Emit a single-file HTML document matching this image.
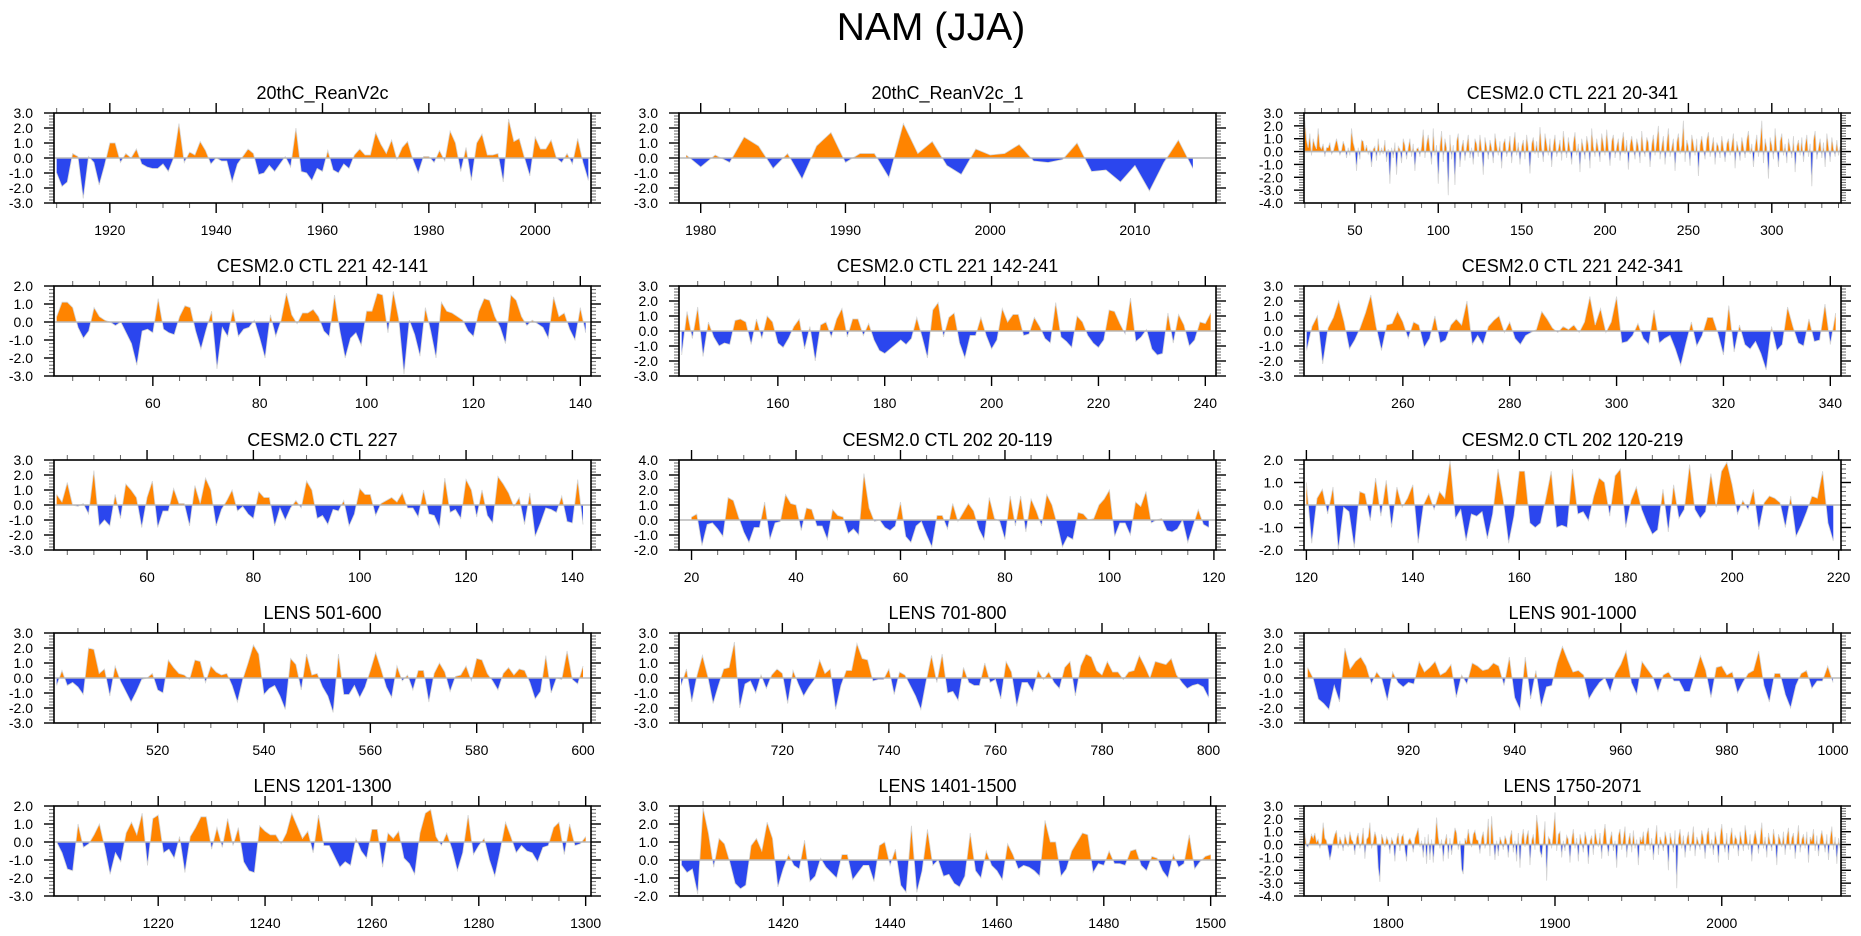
<!DOCTYPE html>
<html><head><meta charset="utf-8">
<style>
html,body{margin:0;padding:0;background:#fff;}
svg{display:block;font-family:"Liberation Sans",Arial,sans-serif;}
</style></head>
<body>
<svg id="chart" width="1861" height="936" viewBox="0 0 1861 936" xmlns="http://www.w3.org/2000/svg">
<rect x="0" y="0" width="1861" height="936" fill="#fff"/>
<text x="931" y="40" font-size="39" text-anchor="middle" fill="#000">NAM (JJA)</text>
</svg>
<script>
// ---- data ----
const p1Values=[-1.0,-1.9,-1.6,0.3,0.1,-2.7,0.1,-0.3,-1.8,-0.5,1.0,1.0,-0.3,0.3,0.0,0.6,-0.4,-0.6,-0.7,-0.7,-0.4,-0.9,0.0,2.3,-0.3,0.4,0.2,1.1,0.5,-0.4,0.0,-0.2,-0.2,-1.6,-0.4,0.1,0.6,0.3,-1.1,-1.0,-0.5,-0.9,-0.4,0.1,-0.6,2.0,-0.9,-1.0,-1.5,-0.7,-0.9,0.5,-0.8,-1.0,-0.4,-0.7,0.2,0.6,0.2,0.2,1.7,0.9,0.3,1.2,-0.1,0.7,1.1,-0.1,-1.0,0.1,0.1,-0.3,0.5,-0.2,1.8,1.0,-0.9,0.7,-1.5,1.0,1.6,0.2,0.2,0.3,-1.6,2.6,1.1,1.3,0.0,-1.2,1.4,0.6,0.6,1.2,0.0,-0.3,0.3,-0.4,1.3,-0.3,-1.5];
const p2Values=[0.2,-0.6,0.2,-0.3,1.4,0.8,-0.7,0.3,-1.4,0.8,1.7,-0.3,0.3,0.3,-1.3,2.3,0.3,1.1,-0.5,-1.1,0.6,0.2,0.3,0.9,-0.2,-0.3,-0.1,1.0,-0.9,-0.8,-1.6,-0.5,-2.2,-0.3,1.2,-0.7];
const p3Values=[2.4,0.9,0.3,1.4,-0.3,1.0,0.5,0.2,1.8,0.4,0.2,0.6,-0.4,0.3,0.3,0.7,-0.2,0.0,0.5,1.0,0.4,-0.3,0.1,0.8,0.4,-0.5,0.3,-0.3,1.8,0.7,0.2,-1.5,0.3,-0.6,0.9,0.8,0.0,0.5,-0.2,0.1,-1.2,0.2,0.4,-0.7,1.0,-0.3,0.3,-0.2,0.9,-0.8,0.2,-2.5,0.3,-0.5,0.7,-1.8,0.4,0.2,-0.9,1.0,0.5,-0.6,0.3,1.0,-0.4,0.6,-1.5,0.2,0.3,-0.4,0.4,1.7,-0.5,0.6,1.3,0.2,-1.0,1.8,-0.3,0.5,-2.5,0.4,1.6,-0.8,1.0,0.3,-3.4,1.3,-0.6,0.5,-2.6,0.8,1.4,-1.2,0.3,0.9,-0.7,0.4,1.3,-0.5,0.3,-1.0,1.0,0.6,-0.4,1.3,0.2,-1.8,1.1,0.4,-0.6,0.9,0.3,-0.9,1.4,0.5,-0.3,0.8,-1.3,0.6,1.0,-0.4,0.2,1.2,-0.9,0.5,1.5,-0.3,0.7,-1.0,0.4,0.9,-0.6,1.3,0.3,-1.7,0.6,1.1,-0.2,0.8,-0.5,1.9,0.3,-0.8,1.4,0.6,-0.3,1.0,-1.2,0.5,1.3,-0.4,0.2,0.9,-0.7,1.6,0.4,-0.5,1.1,0.2,-1.0,0.7,1.5,-0.3,0.6,-1.6,1.0,0.3,-0.6,1.2,0.5,-1.3,1.8,0.4,-0.4,1.0,0.2,-0.8,1.4,0.6,-0.3,1.7,0.3,-1.1,0.8,1.3,-0.5,0.4,1.0,-0.7,0.6,1.5,-0.2,0.9,-1.4,0.5,1.2,0.3,-0.6,1.0,0.4,-0.9,1.6,0.2,-0.4,1.1,0.7,-1.2,0.5,1.3,-0.3,0.8,2.0,-0.6,0.4,1.2,-1.0,0.6,1.8,-0.4,0.3,1.0,-1.5,0.7,1.4,-0.2,0.5,2.4,-0.8,0.9,0.4,-1.1,1.3,0.6,-0.3,1.0,-1.9,0.5,1.2,0.2,-0.6,0.9,1.5,-0.4,0.3,1.1,-1.0,0.7,0.4,-0.5,1.2,0.3,-0.8,0.6,1.0,-0.3,0.5,1.4,-1.3,0.8,0.2,-0.7,1.1,0.4,-0.5,0.9,1.6,-0.2,0.6,-1.2,0.4,1.3,-0.4,0.7,2.4,-0.9,1.0,0.3,-2.1,1.1,0.5,-0.6,1.8,0.2,-1.2,0.8,1.4,-0.3,0.6,-0.9,1.0,0.3,-0.5,1.2,-1.6,0.4,0.9,-0.3,1.1,-0.8,0.5,1.3,-0.4,0.6,-2.7,0.9,1.6,-0.6,0.3,1.0,-0.5,0.7,-1.2,1.4,0.4,-0.8,1.1,0.2,-0.4,0.9,-0.3,0.4];
const p4Values=[0.3,1.1,1.1,0.8,-0.3,-0.9,-0.5,0.8,0.3,0.1,0.0,-0.2,0.0,-0.6,-1.2,-2.4,-0.5,-0.4,-0.6,1.3,-0.4,-0.6,-0.7,0.3,0.9,0.8,-0.5,-1.5,-0.4,0.6,-2.6,-0.3,-0.8,0.7,-0.8,-0.4,-0.3,0.1,-0.9,-2.0,0.4,-0.8,0.1,1.6,0.4,-0.1,0.5,0.5,0.7,0.3,-0.5,-0.8,1.5,-0.5,-2.0,-0.9,-0.6,-1.3,0.6,0.6,1.6,1.5,-0.6,1.7,0.2,-2.9,0.1,-0.7,-1.9,0.8,-0.5,-2.0,1.1,0.6,0.5,0.3,0.1,-0.5,-0.8,0.6,1.3,1.2,0.3,-0.3,-1.2,1.5,1.2,0.3,-0.2,0.1,-0.1,-0.3,-0.9,1.4,0.3,0.5,-0.4,-1.0,0.8,-0.6];
const p5Values=[-1.6,1.3,-0.5,1.6,-1.7,0.6,-0.4,-1.0,-0.8,-0.9,0.7,0.8,0.6,-0.9,0.8,-0.5,1.0,0.6,-0.8,-1.1,-0.5,0.3,0.8,-1.2,0.3,-2.0,0.4,0.6,-0.4,0.8,1.5,-0.4,0.8,0.8,-0.3,0.5,-0.6,-1.3,-1.5,-1.2,-0.9,-0.6,-0.9,-0.5,0.9,-0.4,-1.8,1.4,1.9,-0.4,0.9,1.2,-0.8,-1.8,-0.3,-0.3,0.9,-0.3,-1.2,-0.6,1.5,0.6,1.1,1.1,-0.3,-0.2,0.9,0.3,-0.5,-0.8,1.9,-0.4,-0.7,-1.1,1.0,0.6,-0.3,-0.8,-1.1,-0.6,1.4,1.3,0.5,-0.2,2.2,-0.7,-0.4,0.1,-1.2,-1.6,-1.5,1.2,-0.8,1.1,0.4,-1.0,-0.6,0.6,0.5,1.2];
const p6Values=[-1.3,0.3,1.0,-2.2,0.2,0.9,2.0,0.6,-1.2,-0.6,0.2,1.2,2.4,0.3,-1.3,0.4,0.5,1.3,0.6,-0.5,0.6,0.4,-1.1,-0.5,1.0,-0.8,-0.6,0.4,0.8,0.4,2.0,-0.9,-0.3,-0.9,0.3,0.7,1.0,-0.1,0.6,-0.5,-0.9,-0.3,-0.1,0.1,1.3,0.8,0.2,-0.1,0.3,0.1,0.4,-0.1,0.6,2.3,0.4,1.5,-0.1,0.6,2.3,-0.8,-0.7,-0.3,0.5,-0.5,-0.9,1.4,-0.8,-0.5,-0.3,-1.2,-2.3,-0.8,0.6,-1.0,-0.3,0.9,0.9,-0.2,-1.6,1.7,-1.4,0.4,-0.9,-1.2,-0.7,-1.5,-2.6,0.3,-1.3,-0.9,1.6,0.3,-0.8,-1.0,0.8,-0.7,-0.6,1.8,-0.9,1.2];
const p7Values=[0.7,0.2,1.5,0.0,-0.1,0.1,-0.6,2.3,-1.4,-1.0,-1.4,0.7,-0.9,1.4,1.0,0.5,-1.5,0.5,1.6,-1.5,-0.4,-0.4,1.1,0.1,0.1,-1.4,1.3,0.1,1.8,1.0,-1.4,-0.3,0.3,1.0,-0.4,-0.1,-0.6,-0.9,0.9,0.5,0.5,-1.4,-0.2,-1.0,-0.2,0.3,-0.2,1.6,1.0,-0.9,-0.7,-1.3,-0.3,-0.4,0.3,-1.4,-0.6,1.1,0.7,0.7,-0.7,0.1,0.3,0.5,0.2,0.8,-0.2,-0.2,-0.8,1.0,-0.6,-0.7,-1.5,1.8,-0.5,-0.3,-0.9,1.7,1.0,-0.8,1.0,-0.7,-1.2,1.9,1.4,0.8,-0.1,0.5,-1.3,0.8,-2.1,-1.2,-0.2,-0.3,-0.5,0.6,-1.1,-1.2,1.7,-1.3];
const p8Values=[0.2,0.4,-1.7,-0.3,-0.2,-0.6,-1.1,1.5,1.3,0.2,-0.8,-1.5,-0.5,-0.5,1.2,-1.3,-0.2,-0.1,1.7,1.1,1.0,-0.7,0.8,0.7,-0.4,-0.4,-1.3,0.7,0.3,0.2,-0.9,-0.6,-1.0,3.1,0.8,-0.1,0.0,-0.5,-0.7,-0.4,1.2,-1.1,-1.5,-0.4,-0.1,-1.0,-1.8,0.3,0.3,-0.6,1.1,-0.1,0.5,1.1,0.6,-0.6,-1.3,1.5,0.1,-0.1,-1.3,1.6,-0.4,1.6,-0.8,1.4,0.6,-0.4,1.7,1.0,-0.3,-1.8,-1.1,-1.3,0.5,0.4,0.0,0.1,1.0,1.4,2.0,-1.1,-0.2,-0.2,-1.0,1.2,0.9,1.9,-0.2,0.0,0.1,-0.7,-0.8,-0.6,0.0,-1.5,-0.4,0.7,-0.3,-0.5];
const p9Values=[1.0,-1.7,0.3,0.7,-0.4,0.8,-2.0,-0.1,-0.3,-1.9,0.6,0.5,-0.7,1.2,-0.5,1.1,-1.0,0.8,-0.1,0.3,0.9,-1.7,0.0,0.5,-0.2,0.6,0.3,2.0,-0.6,-0.2,-1.6,-0.4,-0.5,-0.3,-1.5,-0.4,1.6,0.2,-1.7,-0.5,1.5,1.5,-0.8,-1.0,-0.8,0.3,1.5,-1.0,-0.9,-1.0,1.6,-0.4,-0.3,-0.7,0.4,1.2,1.0,-0.5,1.3,1.6,-1.0,0.2,0.8,-0.2,-0.8,-1.3,-1.1,0.7,-1.2,0.9,-0.6,-0.2,1.8,-0.2,-0.6,-0.3,1.4,-0.1,1.5,1.9,0.9,-0.4,0.2,-0.2,0.7,-1.1,0.1,0.4,0.3,0.1,-1.0,0.4,-1.4,-0.9,-0.3,0.4,0.3,1.5,-0.8,-1.6];
const p10Values=[-0.5,0.5,-0.5,-0.3,-0.6,-1.1,2.0,1.9,0.3,0.6,-1.2,0.8,-0.2,-0.9,-1.6,-0.9,-0.1,0.0,0.3,-0.8,-1.0,1.2,0.7,0.3,0.2,-0.1,1.2,1.1,-0.3,0.8,0.4,0.2,0.3,-0.5,-1.6,-0.1,1.0,2.2,1.6,-1.1,-0.7,-0.5,-1.2,-2.1,1.3,0.9,-0.8,1.6,0.2,0.3,-0.6,-1.2,-2.3,1.6,-1.1,-1.1,-0.5,-1.3,-0.6,0.5,1.7,0.6,-0.6,-1.3,0.8,-0.2,0.2,-0.8,0.5,0.5,-1.6,0.3,1.0,0.4,-0.9,0.1,0.2,0.8,-0.2,1.3,1.2,0.3,-0.2,-0.8,0.3,0.7,0.2,0.6,0.5,-0.3,-1.4,-0.9,1.5,-1.0,0.0,-0.1,1.8,-0.1,-0.4,0.8];
const p11Values=[-0.5,0.6,-1.6,0.2,1.5,0.1,-1.7,-0.5,0.6,0.7,2.4,-2.0,-0.4,-0.2,-1.0,0.2,-0.7,0.2,0.6,0.3,-1.7,0.5,-0.4,-1.2,-0.6,-0.1,1.2,0.3,0.6,-2.1,-0.5,0.5,0.5,2.3,1.3,1.2,-0.2,-0.1,-0.1,0.6,-1.1,0.4,0.2,-0.5,-1.2,-2.1,-0.2,1.5,-0.3,1.6,-1.0,-0.9,-1.5,0.7,-0.3,-0.5,-0.5,1.0,-0.3,-0.1,-1.4,1.1,0.4,-1.9,-0.3,-0.3,-0.9,0.5,-0.1,0.4,-0.3,-0.7,0.7,1.1,-1.2,0.8,1.6,1.4,0.5,0.2,1.1,0.4,0.4,-0.1,0.4,0.5,1.5,0.8,0.0,1.1,1.0,0.9,1.3,0.2,-0.3,-0.7,-0.5,-0.4,-0.6,-1.3];
const p12Values=[0.7,0.0,-1.4,-1.7,-2.1,-0.5,-1.6,2.0,0.6,1.1,1.4,0.8,-0.4,0.4,-0.1,-1.5,0.4,-0.3,-0.6,-0.3,-0.4,1.1,0.4,0.7,1.1,0.2,0.4,0.9,-1.3,0.2,-0.4,1.0,0.8,0.5,0.6,1.0,0.8,-0.5,1.4,-1.3,-2.1,1.4,-1.4,0.5,-1.9,-0.6,-0.5,1.0,2.1,1.2,0.4,0.5,0.2,-1.4,-0.8,-0.3,0.0,-0.9,0.3,0.9,1.8,-0.3,-1.1,1.1,0.6,0.1,-0.9,0.2,0.4,-0.2,-0.2,-0.9,-0.9,0.3,1.5,0.5,-1.3,0.7,0.8,0.2,0.4,-1.0,-0.3,0.3,0.5,1.8,-0.5,-1.6,0.3,0.3,-1.1,-2.0,-0.5,0.3,0.5,-0.7,-0.2,-0.2,0.8,-0.3];
const p13Values=[0.0,-0.6,-1.5,-1.6,1.0,-0.3,-0.1,0.4,1.0,-0.3,-1.8,-0.6,-1.1,0.5,1.1,0.4,1.6,-1.3,1.3,1.5,-0.6,-0.4,-0.9,0.3,-1.7,0.3,0.8,1.4,1.4,-0.4,0.8,-0.3,1.3,-0.2,0.8,-1.1,-1.6,-1.7,0.9,0.6,0.4,0.4,-0.1,0.5,1.6,0.9,0.2,0.6,-0.6,1.5,-0.2,-0.2,-0.8,-1.4,-1.1,-1.3,0.2,-0.5,-0.9,0.7,0.7,-1.4,0.5,0.2,0.6,-0.9,-1.2,-1.8,0.5,1.6,1.8,0.3,-0.2,0.5,-0.4,-1.6,-0.6,1.5,-0.7,-0.2,0.2,-1.0,-1.9,-0.5,1.1,0.3,-0.6,-0.2,-0.5,-0.6,-1.1,-0.3,-0.2,0.8,1.1,-0.7,1.0,-0.2,-0.1,0.3];
const p14Values=[-0.3,-0.7,-0.5,-1.9,2.9,1.5,-0.4,1.2,0.9,-0.1,-1.3,-1.6,-1.4,0.8,1.2,0.5,2.1,1.2,-1.5,-0.5,0.3,-0.3,-0.5,1.1,-1.2,-0.9,0.1,-0.4,-0.7,-1.0,0.3,0.3,-1.1,-0.7,-0.3,-0.3,-1.2,0.8,1.0,-0.3,0.6,-1.4,-1.8,1.9,-1.8,-0.6,1.7,-0.3,0.0,-0.9,-0.8,-1.3,-1.5,-0.9,1.5,-0.6,-1.0,0.5,-0.3,-0.6,-1.1,0.9,0.3,-0.5,-0.3,-0.4,-0.6,-0.9,2.2,1.0,1.0,-0.9,-0.5,0.5,1.0,1.5,1.4,-0.7,-0.2,-0.3,0.5,-0.2,-0.2,-0.3,0.5,0.6,-0.3,-0.6,0.2,0.1,-0.6,-1.0,0.3,-0.4,-0.2,1.4,-0.5,-0.1,0.2,0.3];
const p15Values=[0.9,-0.1,-0.2,0.3,0.8,0.5,0.9,0.2,0.4,-0.3,0.2,1.7,0.5,0.3,-0.4,-1.2,-0.6,0.3,0.8,1.1,-0.3,0.6,0.2,-0.5,0.8,0.3,-0.2,1.0,0.4,0.2,-0.8,0.5,0.9,-0.3,0.2,1.3,-1.1,0.4,0.6,1.7,-0.3,0.2,1.0,0.5,-1.8,-2.9,0.8,0.4,-0.2,0.6,0.3,-0.7,0.5,0.2,-1.3,0.4,0.9,-0.5,0.6,0.8,-0.4,-1.3,0.3,0.5,0.2,-0.6,0.5,0.9,1.3,-0.2,0.3,-1.0,0.6,-1.5,0.8,-1.2,0.4,-1.4,0.2,2.1,0.6,-0.3,0.4,-1.3,0.2,0.8,-1.1,0.5,-0.8,0.3,1.3,0.9,-0.4,0.3,-1.9,-2.3,0.5,0.2,1.2,0.3,-0.2,0.8,1.1,0.4,0.3,-0.7,0.5,1.0,-0.3,0.2,2.0,-0.9,2.2,0.4,-1.2,0.3,-0.9,0.6,0.2,-0.4,0.7,0.3,-1.0,0.5,1.1,-0.6,0.3,-1.3,0.9,-1.8,0.4,1.2,-0.2,0.6,1.1,-1.6,0.3,0.8,-0.4,2.3,1.2,-0.5,-1.0,0.3,1.8,-2.8,0.6,0.4,-0.3,1.0,2.5,-0.5,0.8,1.0,-1.0,0.3,-0.5,0.7,0.4,-1.4,0.4,1.2,-0.3,0.5,-1.3,0.8,0.2,-0.6,1.0,0.4,-1.5,0.3,0.7,-0.8,1.2,0.4,-0.2,0.9,-1.1,0.6,1.6,0.2,-0.9,0.4,1.0,-0.5,0.3,-1.8,0.7,1.2,-0.4,0.5,1.4,-1.0,0.3,0.9,-0.6,1.1,-0.3,0.4,-1.6,0.6,0.2,1.0,-0.5,0.8,1.3,-0.4,0.5,-1.2,0.3,1.5,-0.8,0.6,0.2,-0.5,1.0,0.4,-2.0,0.9,0.3,-0.6,1.1,-3.4,0.5,1.2,-0.3,0.7,-1.0,0.4,1.0,-0.5,0.3,1.4,-0.9,0.6,0.2,-0.4,1.1,0.5,-1.1,0.7,1.3,-0.3,0.4,-0.8,1.0,0.3,-1.4,0.6,1.6,0.2,-0.6,0.9,-1.2,0.5,1.3,-0.3,0.7,0.4,-0.9,1.0,0.3,-0.5,1.5,0.6,-0.4,0.8,-1.3,0.3,1.1,0.4,-0.7,0.5,1.7,-0.3,0.6,-1.0,0.9,0.2,-0.5,1.2,0.3,-1.6,0.8,0.4,-0.2,1.0,-0.8,0.6,1.3,-0.4,0.5,0.9,-1.1,0.3,1.5,-0.6,0.4,0.8,-0.3,1.0,-1.4,0.6,0.3,1.2,-0.5,0.7,-0.9,0.4,1.1,0.3,-0.6,0.8,-1.2,0.5,1.4,-0.4,0.6,-1.5,0.5,-0.3];

const panelTitles=["20thC_ReanV2c","20thC_ReanV2c_1","CESM2.0 CTL 221 20-341","CESM2.0 CTL 221 42-141","CESM2.0 CTL 221 142-241","CESM2.0 CTL 221 242-341","CESM2.0 CTL 227","CESM2.0 CTL 202 20-119","CESM2.0 CTL 202 120-219","LENS 501-600","LENS 701-800","LENS 901-1000","LENS 1201-1300","LENS 1401-1500","LENS 1750-2071"];
const panelSeries=[p1Values,p2Values,p3Values,p4Values,p5Values,p6Values,p7Values,p8Values,p9Values,p10Values,p11Values,p12Values,p13Values,p14Values,p15Values];
const firstYear=[1910,1979,20,42,142,242,43,20,120,501,701,901,1201,1401,1750];
const xMin=[1909.5,1978.5,19.5,41.5,141.5,241.5,42.5,17.6,119.55,500.5,700.6,900.3,1200.5,1400.5,1749.5];
const xMax=[2010.5,2015.6,341.5,142,242,342,143.5,120.4,220.45,601.5,801.4,1001.5,1301,1501,2071.5];
const yMin=[-3,-3,-4,-3,-3,-3,-3,-2,-2,-3,-3,-3,-3,-2,-4];
const yMax=[3,3,3,2,3,3,3,4,2,3,3,3,2,3,3];
const xMajor=[20,10,50,20,20,20,20,20,20,20,20,20,20,20,100];
const xMinor=[5,2,10,5,5,5,5,5,5,5,5,5,5,5,20];

// ---- layout ----
const colLeft=[54,679,1304], panelW=537, rowTop=[113,286,460,633,806], panelH=90;
const NS="http://www.w3.org/2000/svg";
const svg=document.getElementById('chart');
function mk(tag,attrs,parent){const e=document.createElementNS(NS,tag);for(const k in attrs)e.setAttribute(k,attrs[k]);(parent||svg).appendChild(e);return e;}
function fmtY(v){return (Math.round(v*10)/10).toFixed(1);}

panelSeries.forEach((vals,i)=>{
  const L=colLeft[i%3], T=rowTop[Math.floor(i/3)], R=L+panelW, B=T+panelH;
  const xs=v=>L+(v-xMin[i])/(xMax[i]-xMin[i])*panelW;
  const ys=v=>B-(v-yMin[i])/(yMax[i]-yMin[i])*panelH;
  const g=mk('g',{});
  
  
  const t=mk('text',{x:(L+R)/2,y:T-14,'font-size':18,'text-anchor':'middle',fill:'#000'},g);
  
  
  t.textContent=panelTitles[i];
  const y0=ys(0);
  // clip paths
  const cu=mk('clipPath',{id:'cu'+i},g); mk('rect',{x:L,y:T,width:panelW,height:y0-T},cu);
  const cd=mk('clipPath',{id:'cd'+i},g); mk('rect',{x:L,y:y0,width:panelW,height:B-y0},cd);
  let pts=xs(firstYear[i]).toFixed(2)+','+y0.toFixed(2)+' ';
  let line='';
  vals.forEach((v,k)=>{const p=xs(firstYear[i]+k).toFixed(2)+','+ys(v).toFixed(2)+' ';pts+=p;line+=p;});
  pts+=xs(firstYear[i]+vals.length-1).toFixed(2)+','+y0.toFixed(2);
  const up=mk('polygon',{points:pts,fill:'#ff8400','clip-path':'url(#cu'+i+')'},g);
  
  
  const dn=mk('polygon',{points:pts,fill:'#2b46ee','clip-path':'url(#cd'+i+')'},g);
  
  
  const ln=mk('polyline',{points:line,fill:'none',stroke:'#d4d4d4','stroke-width':0.8},g);
  
  
  const zl=mk('line',{x1:L,x2:R,y1:y0,y2:y0,stroke:'#b8b8b8','stroke-width':1.6},g);
  
  
  // y ticks
  for(let v=yMin[i];v<=yMax[i]+1e-6;v=Math.round((v+0.2)*10)/10){
    const yy=ys(v), major=Math.abs(v-Math.round(v))<1e-6;
    const len=major?10:5, sw=major?1.4:1, col=major?'#000':'#666';
    mk('line',{x1:L-len,x2:L,y1:yy,y2:yy,stroke:col,'stroke-width':sw},g);
    mk('line',{x1:R,x2:R+len,y1:yy,y2:yy,stroke:col,'stroke-width':sw},g);
    if(major){
      const lb=mk('text',{x:L-21,y:yy+5,'font-size':14,'text-anchor':'end',fill:'#000'},g);
      
      
      lb.textContent=fmtY(v);
    }
  }
  // x ticks
  const mi=xMinor[i], ma=xMajor[i];
  for(let v=Math.ceil(xMin[i]/mi)*mi; v<=xMax[i]; v+=mi){
    const xx=xs(v), major=(v%ma===0);
    const len=major?10:5, sw=major?1.4:1, col=major?'#000':'#666';
    mk('line',{x1:xx,x2:xx,y1:B,y2:B+len,stroke:col,'stroke-width':sw},g);
    mk('line',{x1:xx,x2:xx,y1:T-len,y2:T,stroke:col,'stroke-width':sw},g);
    if(major){
      const lb=mk('text',{x:xx,y:B+32,'font-size':14,'text-anchor':'middle',fill:'#000'},g);
      
      
      lb.textContent=String(v);
    }
  }
  const fr=mk('rect',{x:L,y:T,width:panelW,height:panelH,fill:'none',stroke:'#000','stroke-width':1.6},g);
  
  
});
</script>
</body></html>
